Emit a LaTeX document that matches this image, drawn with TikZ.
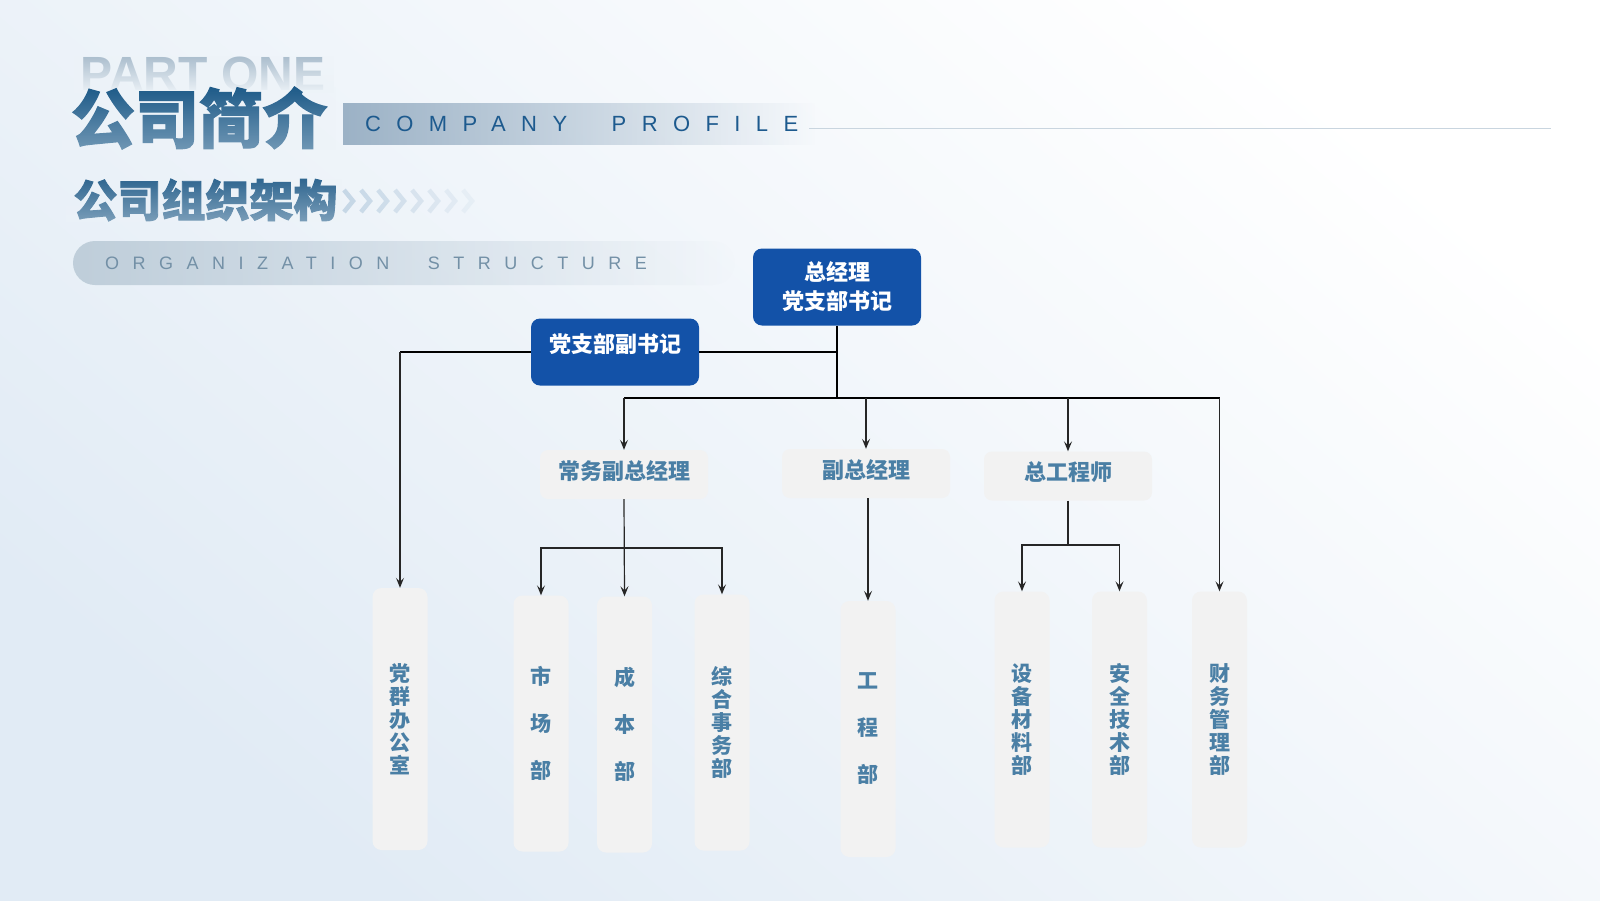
\documentclass[tikz,border=0pt]{standalone}
\usepackage{fontspec}
\usetikzlibrary{arrows.meta,fadings,calc}
\newfontfamily\cjk{Noto Sans CJK SC}
\newfontfamily\cjkh{Noto Sans CJK SC}[BoldFeatures={FakeBold=2}]
\newfontfamily\lat{Liberation Sans}
\newfontfamily\latcp{Liberation Sans}[LetterSpace=70]
\newfontfamily\latos{Liberation Sans}[LetterSpace=75]
\definecolor{bgblue}{HTML}{E1EBF5}
\definecolor{bgloc}{HTML}{EDF3F8}
\definecolor{boxblue}{HTML}{1352A8}
\definecolor{boxgray}{HTML}{F2F2F2}
\definecolor{txtblue}{HTML}{4A7FA5}
\definecolor{titlec}{HTML}{1D5A88}
\definecolor{subc}{HTML}{2F6690}
\definecolor{partc}{HTML}{A9BCCC}
\definecolor{bandc}{HTML}{9CB2C6}
\definecolor{cpc}{HTML}{1D5A8E}
\definecolor{linec}{HTML}{C9D5DF}
\definecolor{chevc}{HTML}{C6D7E6}
\definecolor{pillc}{HTML}{BFCEDA}
\definecolor{orgc}{HTML}{7390A6}
\tikzset{
  titlefont/.style={font=\cjkh\bfseries\fontsize{64}{64}\selectfont},
  subfont/.style={font=\cjkh\bfseries\fontsize{44}{44}\selectfont},
  partfont/.style={font=\lat\bfseries\fontsize{48}{48}\selectfont},
  bluebox/.style={fill=boxblue, rounded corners=9pt, text=white, font=\cjk\bfseries\fontsize{22}{29}\selectfont, align=center, inner sep=0pt, minimum width=168pt},
  graybox/.style={fill=boxgray, rounded corners=8pt, text=txtblue, font=\cjk\bfseries\fontsize{22}{26}\selectfont, inner sep=0pt, minimum width=168pt, minimum height=49pt, text depth=9pt},
  vbox/.style={fill=boxgray, rounded corners=9pt, text=txtblue, minimum width=55pt, minimum height=256pt, align=center, inner sep=0pt, font=\cjk\bfseries\fontsize{21}{23}\selectfont},
  vboxwide/.style={vbox, font=\cjk\bfseries\fontsize{21}{47}\selectfont},
  mainline/.style={line width=1.8pt, black},
  conn/.style={line width=1.2pt, black!85},
  arr/.style={conn, -{Stealth[length=10pt,width=8pt,inset=4pt]}},
  veil/.style={fill=bgloc, path fading=fadeDown},
  veilfull/.style={fill=bgloc, path fading=fadeDownFull}
}
\tikzfading[name=fadeR, left color=transparent!0, right color=transparent!100]
\tikzfading[name=fadeDown, top color=transparent!100, bottom color=transparent!60]
\tikzfading[name=fadeDownFull, top color=transparent!100, bottom color=transparent!0]
\begin{document}
\begin{tikzpicture}[x=1pt,y=-1pt]
\useasboundingbox (0,0) rectangle (1600,900);
\shade[top color=white, bottom color=bgblue, shading angle=-40] (0,0) rectangle (1600,900);

% header
\node[partfont, text=partc, inner sep=0pt] (part) at (203,74) {PART ONE};
\path[veilfull] (74,55) rectangle (334,93);
\node[titlefont, text=titlec, inner sep=0pt] (title) at (199,118) {公司简介};
\path[veil] (62,86) rectangle (336,150);
\fill[bandc, path fading=fadeR] (343,103) rectangle (815,145);
\node[anchor=base west, inner sep=0pt, text=cpc, font=\latcp\fontsize{22}{22}\selectfont] (cp) at (365,131) {COMPANY\hspace{23pt} PROFILE};
\draw[linec, line width=1pt] (809,128) -- (1551,128);
\node[subfont, text=subc, inner sep=0pt] (sub) at (205.5,200) {公司组织架构};
\path[veil] (66,178) rectangle (342,222);
\foreach \i in {0,...,7}{
  \pgfmathsetmacro\op{1-0.11*\i}
  \draw[chevc, line width=4.5pt, opacity=\op] (344+\i*17,190) -- ++(9,11) -- ++(-9,11);
}
\fill[pillc, path fading=fadeR, rounded corners=22pt] (73,241) rectangle (735,285);
\node[anchor=base west, inner sep=0pt, text=orgc, font=\latos\fontsize{18}{18}\selectfont] (org) at (105,269.5) {ORGANIZATION\hspace{20pt} STRUCTURE};

% chart nodes
\node[bluebox, minimum height=77pt] (zjl) at (837,287) {总经理\\党支部书记};
\node[bluebox, minimum height=67pt, text depth=18pt] (fsj) at (615,352) {党支部副书记};
\node[graybox] (cw) at (624,474.5) {常务副总经理};
\node[graybox] (fz) at (866,473.5) {副总经理};
\node[graybox] (zg) at (1068,476) {总工程师};
\node[vbox, minimum height=262pt] (dq) at (400,719) {党\\群\\办\\公\\室};
\node[vboxwide] (sc) at (541,723.5) {市\\场\\部};
\node[vboxwide] (cb) at (624.5,724.5) {成\\本\\部};
\node[vbox] (zh) at (722,722.5) {综\\合\\事\\务\\部};
\node[vboxwide] (gc) at (868,729) {工\\程\\部};
\node[vbox] (sb) at (1022,719.5) {设\\备\\材\\料\\部};
\node[vbox] (aq) at (1119.5,719.5) {安\\全\\技\\术\\部};
\node[vbox] (cg) at (1219.5,719.5) {财\\务\\管\\理\\部};

% connectors
\coordinate (hub) at (zjl.south |- 0,398);
\draw[mainline] (zjl.south) -- (hub);
\draw[mainline] (fsj.east) -- (fsj.east -| zjl.south);
\draw[mainline] (fsj.west) -- (fsj.west -| dq.north);
\draw[arr] (fsj.west -| dq.north) -- (dq.north);
\draw[mainline] (cw.north |- hub) -- (cg.north |- hub);
\draw[arr] (cw.north |- hub) -- (cw.north);
\draw[arr] (fz.north |- hub) -- (fz.north);
\draw[arr] (zg.north |- hub) -- (zg.north);
\draw[arr] (cg.north |- hub) -- (cg.north);
\coordinate (cwj) at (cw.south |- 0,548);
\draw[arr] (cw.south) -- (cb.north);
\draw[arr] (cwj) -| (sc.north);
\draw[arr] (cwj) -| (zh.north);
\draw[arr] (gc.north |- fz.south) -- (gc.north);
\coordinate (zgj) at (zg.south |- 0,545);
\draw[conn] (zg.south) -- (zgj);
\draw[arr] (zgj) -| (sb.north);
\draw[arr] (zgj) -| (aq.north);
\end{tikzpicture}
\end{document}
